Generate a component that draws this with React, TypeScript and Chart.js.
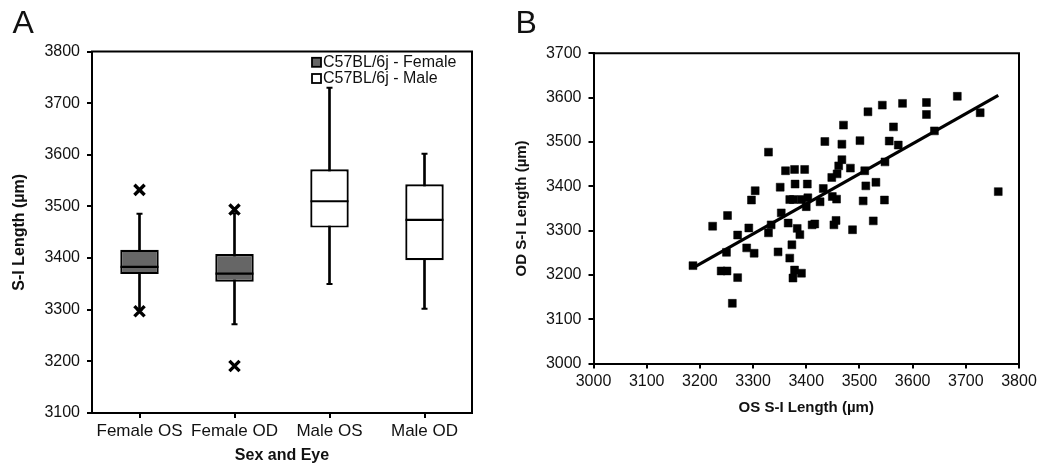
import React, { useEffect, useRef } from "react";
import { Chart, registerables } from "chart.js";

Chart.register(...registerables);

// ---------- Panel A data (box plot) ----------
const boxCategories = ["Female OS", "Female OD", "Male OS", "Male OD"];
const whiskerLow = [3300, 3272, 3350, 3302];
const quartile1 = [3369, 3354, 3459, 3396];
const medians = [3383, 3370, 3510, 3474];
const quartile3 = [3416, 3408, 3572, 3543];
const whiskerHigh = [3486, 3487, 3730, 3602];
const outlierHigh = [3532, 3494, null, null];
const outlierLow = [3297, 3191, null, null];
const groupLabels = ["C57BL/6j - Female", "C57BL/6j - Male"];
const groupOfBox = [0, 0, 1, 1];

// ---------- Panel B data (scatter) ----------
const osLength = [
  3187, 3224, 3252, 3250, 3240, 3251, 3271, 3261, 3271, 3292,
  3288, 3302, 3297, 3304, 3329, 3329, 3334, 3347, 3351, 3353,
  3361, 3378, 3397, 3379, 3402, 3366, 3369, 3376, 3391, 3403,
  3383, 3388, 3369, 3373, 3378, 3391, 3375, 3400, 3411, 3416,
  3426, 3432, 3435, 3448, 3449, 3457, 3452, 3456, 3458, 3461,
  3467, 3470, 3467, 3501, 3516, 3543, 3581, 3626, 3626, 3564,
  3556, 3573, 3483, 3510, 3548, 3531, 3512, 3507, 3547, 3526,
  3487, 3684, 3727, 3641, 3761,
];
const odLength = [
  3221, 3310, 3334, 3251, 3209, 3209, 3194, 3136, 3290, 3306,
  3261, 3249, 3369, 3390, 3477, 3295, 3313, 3252, 3398, 3340,
  3435, 3438, 3438, 3405, 3405, 3317, 3370, 3370, 3370, 3374,
  3305, 3291, 3238, 3268, 3211, 3204, 3193, 3354, 3313, 3315,
  3365, 3395, 3501, 3420, 3377, 3371, 3313, 3323, 3428, 3446,
  3460, 3538, 3495, 3503, 3568, 3583, 3587, 3589, 3562, 3534,
  3502, 3493, 3441, 3435, 3455, 3409, 3401, 3367, 3369, 3322,
  3302, 3603, 3566, 3525, 3388,
];
const trendOS = [3187, 3761];
const trendOD = [3216, 3605];

const FONT = "'Liberation Sans', Arial, Helvetica, sans-serif";
const TEXT = "#111111";
const FEMALE_FILL = "#666666";
const MALE_FILL = "#ffffff";

const framePlugin = {
  id: "frame",
  afterDraw(chart: any) {
    const { ctx, chartArea } = chart;
    const { left, right, top, bottom } = chartArea;
    ctx.save();
    ctx.strokeStyle = "#000";
    ctx.lineWidth = 2;
    ctx.beginPath();
    ctx.moveTo(left - 1, top);
    ctx.lineTo(right, top);
    ctx.lineTo(right, bottom + 1);
    ctx.stroke();
    ctx.restore();
  },
};

function letterPlugin(letter: string, x: number, y: number) {
  return {
    id: "letter" + letter,
    afterDraw(chart: any) {
      const ctx = chart.ctx;
      ctx.save();
      ctx.fillStyle = TEXT;
      ctx.font = `32px ${FONT}`;
      ctx.textAlign = "left";
      ctx.textBaseline = "alphabetic";
      ctx.fillText(letter, x, y);
      ctx.restore();
    },
  };
}

const legendPlugin = {
  id: "boxLegend",
  afterDraw(chart: any) {
    const ctx = chart.ctx;
    const fills = [FEMALE_FILL, MALE_FILL];
    ctx.save();
    ctx.font = `16px ${FONT}`;
    ctx.textBaseline = "middle";
    ctx.textAlign = "left";
    groupLabels.forEach((label, i) => {
      const cy = 62.3 + i * 16.2;
      ctx.fillStyle = fills[i];
      ctx.fillRect(312, cy - 4.5, 9, 9);
      ctx.strokeStyle = "#000";
      ctx.lineWidth = 1.8;
      ctx.strokeRect(312, cy - 4.5, 9, 9);
      ctx.fillStyle = TEXT;
      ctx.fillText(label, 323, cy + 0.5);
    });
    ctx.restore();
  },
};

function axisCommon() {
  return {
    grid: {
      display: true,
      drawOnChartArea: false,
      drawTicks: true,
      tickLength: 5,
      color: "#000",
      lineWidth: 2,
    },
    border: { display: true, color: "#000", width: 2 },
  };
}

const plainNumber = (v: any) => String(v);

function buildBoxConfig(): any {
  return {
    type: "bar",
    data: {
      labels: boxCategories,
      datasets: [
        {
          label: "whiskers",
          data: whiskerLow.map((v, i) => [v, whiskerHigh[i]]),
          backgroundColor: "#000",
          borderWidth: 0,
          barThickness: 2,
          grouped: false,
          order: 5,
        },
        {
          label: "boxes",
          data: quartile1.map((v, i) => [v, quartile3[i]]),
          backgroundColor: groupOfBox.map((g) => (g === 0 ? FEMALE_FILL : MALE_FILL)),
          borderColor: "#000",
          borderWidth: 2.2,
          borderSkipped: false,
          barPercentage: 0.405,
          categoryPercentage: 1,
          grouped: false,
          order: 4,
        },
        {
          type: "line",
          label: "median",
          data: medians,
          showLine: false,
          pointStyle: "line",
          pointRadius: 19,
          pointBorderWidth: 2.2,
          pointBorderColor: "#000",
          order: 3,
        },
        {
          type: "line",
          label: "capHigh",
          data: whiskerHigh,
          showLine: false,
          pointStyle: "line",
          pointRadius: 3,
          pointBorderWidth: 2,
          pointBorderColor: "#000",
          order: 2,
        },
        {
          type: "line",
          label: "capLow",
          data: whiskerLow,
          showLine: false,
          pointStyle: "line",
          pointRadius: 3,
          pointBorderWidth: 2,
          pointBorderColor: "#000",
          order: 2,
        },
        {
          type: "line",
          label: "outHigh",
          data: outlierHigh,
          showLine: false,
          pointStyle: "crossRot",
          pointRadius: 7.2,
          pointBorderWidth: 3.4,
          pointBorderColor: "#000",
          order: 1,
        },
        {
          type: "line",
          label: "outLow",
          data: outlierLow,
          showLine: false,
          pointStyle: "crossRot",
          pointRadius: 7.2,
          pointBorderWidth: 3.4,
          pointBorderColor: "#000",
          order: 1,
        },
      ],
    },
    options: {
      animation: false,
      responsive: false,
      events: [],
      layout: { padding: { left: 0, top: 51.5, right: 48, bottom: 0 } },
      plugins: { legend: { display: false }, tooltip: { enabled: false } },
      scales: {
        x: {
          type: "category",
          offset: true,
          ...axisCommon(),
          grid: { ...axisCommon().grid, offset: false },
          ticks: { color: TEXT, font: { family: FONT, size: 17 }, padding: 3, maxRotation: 0 },
          title: {
            display: true,
            text: "Sex and Eye",
            color: TEXT,
            font: { family: FONT, size: 16, weight: "bold" },
            padding: { top: 0, bottom: 2.5 },
          },
          afterFit: (s: any) => {
            s.height = 55;
          },
        },
        y: {
          type: "linear",
          min: 3100,
          max: 3800,
          ...axisCommon(),
          ticks: { stepSize: 100, color: TEXT, font: { family: FONT, size: 16 }, padding: 7, callback: plainNumber },
          title: {
            display: true,
            text: "S-I Length (µm)",
            color: TEXT,
            font: { family: FONT, size: 16, weight: "bold" },
            padding: { top: 9.5, bottom: 0 },
          },
          afterFit: (s: any) => {
            s.width = 92;
          },
        },
      },
    },
    plugins: [framePlugin, legendPlugin, letterPlugin("A", 12.5, 33)],
  };
}

function buildScatterConfig(): any {
  return {
    type: "scatter",
    data: {
      datasets: [
        {
          label: "trend",
          type: "line",
          data: trendOS.map((x, i) => ({ x, y: trendOD[i] })),
          borderColor: "#000",
          borderWidth: 3.2,
          pointRadius: 0,
          showLine: true,
          fill: false,
          order: 1,
        },
        {
          label: "eyes",
          data: osLength.map((x, i) => ({ x, y: odLength[i] })),
          pointStyle: "rect",
          pointRadius: 5.6,
          backgroundColor: "#000",
          borderColor: "#000",
          borderWidth: 0.5,
          order: 2,
        },
      ],
    },
    options: {
      animation: false,
      responsive: false,
      events: [],
      layout: { padding: { left: 0, top: 53.3, right: 25, bottom: 0 } },
      plugins: { legend: { display: false }, tooltip: { enabled: false } },
      scales: {
        x: {
          type: "linear",
          min: 3000,
          max: 3800,
          ...axisCommon(),
          ticks: { stepSize: 100, color: TEXT, font: { family: FONT, size: 16 }, padding: 3, maxRotation: 0, callback: plainNumber },
          title: {
            display: true,
            text: "OS S-I Length (µm)",
            color: TEXT,
            font: { family: FONT, size: 15, weight: "bold" },
            padding: { top: 0, bottom: 51 },
          },
          afterFit: (s: any) => {
            s.height = 104.4;
          },
        },
        y: {
          type: "linear",
          min: 3000,
          max: 3700,
          ...axisCommon(),
          ticks: { stepSize: 100, color: TEXT, font: { family: FONT, size: 16 }, padding: 7, callback: plainNumber },
          title: {
            display: true,
            text: "OD S-I Length (µm)",
            color: TEXT,
            font: { family: FONT, size: 15, weight: "bold" },
            padding: { top: 13, bottom: 0 },
          },
          afterFit: (s: any) => {
            s.width = 93.5;
          },
        },
      },
    },
    plugins: [framePlugin, letterPlugin("B", 15.5, 33)],
  };
}

function ChartCanvas(props: { width: number; height: number; left: number; build: () => any }) {
  const ref = useRef<HTMLCanvasElement | null>(null);
  useEffect(() => {
    if (!ref.current) return;
    const chart = new Chart(ref.current, props.build());
    return () => chart.destroy();
  }, []);
  return (
    <canvas
      ref={ref}
      width={props.width}
      height={props.height}
      style={{
        position: "absolute",
        left: props.left,
        top: 0,
        width: props.width,
        height: props.height,
      }}
    />
  );
}

export default function App() {
  Chart.defaults.font.family = FONT;
  Chart.defaults.color = TEXT;
  return (
    <div
      style={{
        position: "absolute",
        left: 0,
        top: 0,
        width: 1044,
        height: 468,
        background: "#fff",
        overflow: "hidden",
      }}
    >
      <ChartCanvas width={520} height={468} left={0} build={buildBoxConfig} />
      <ChartCanvas width={544} height={468} left={500} build={buildScatterConfig} />
    </div>
  );
}
